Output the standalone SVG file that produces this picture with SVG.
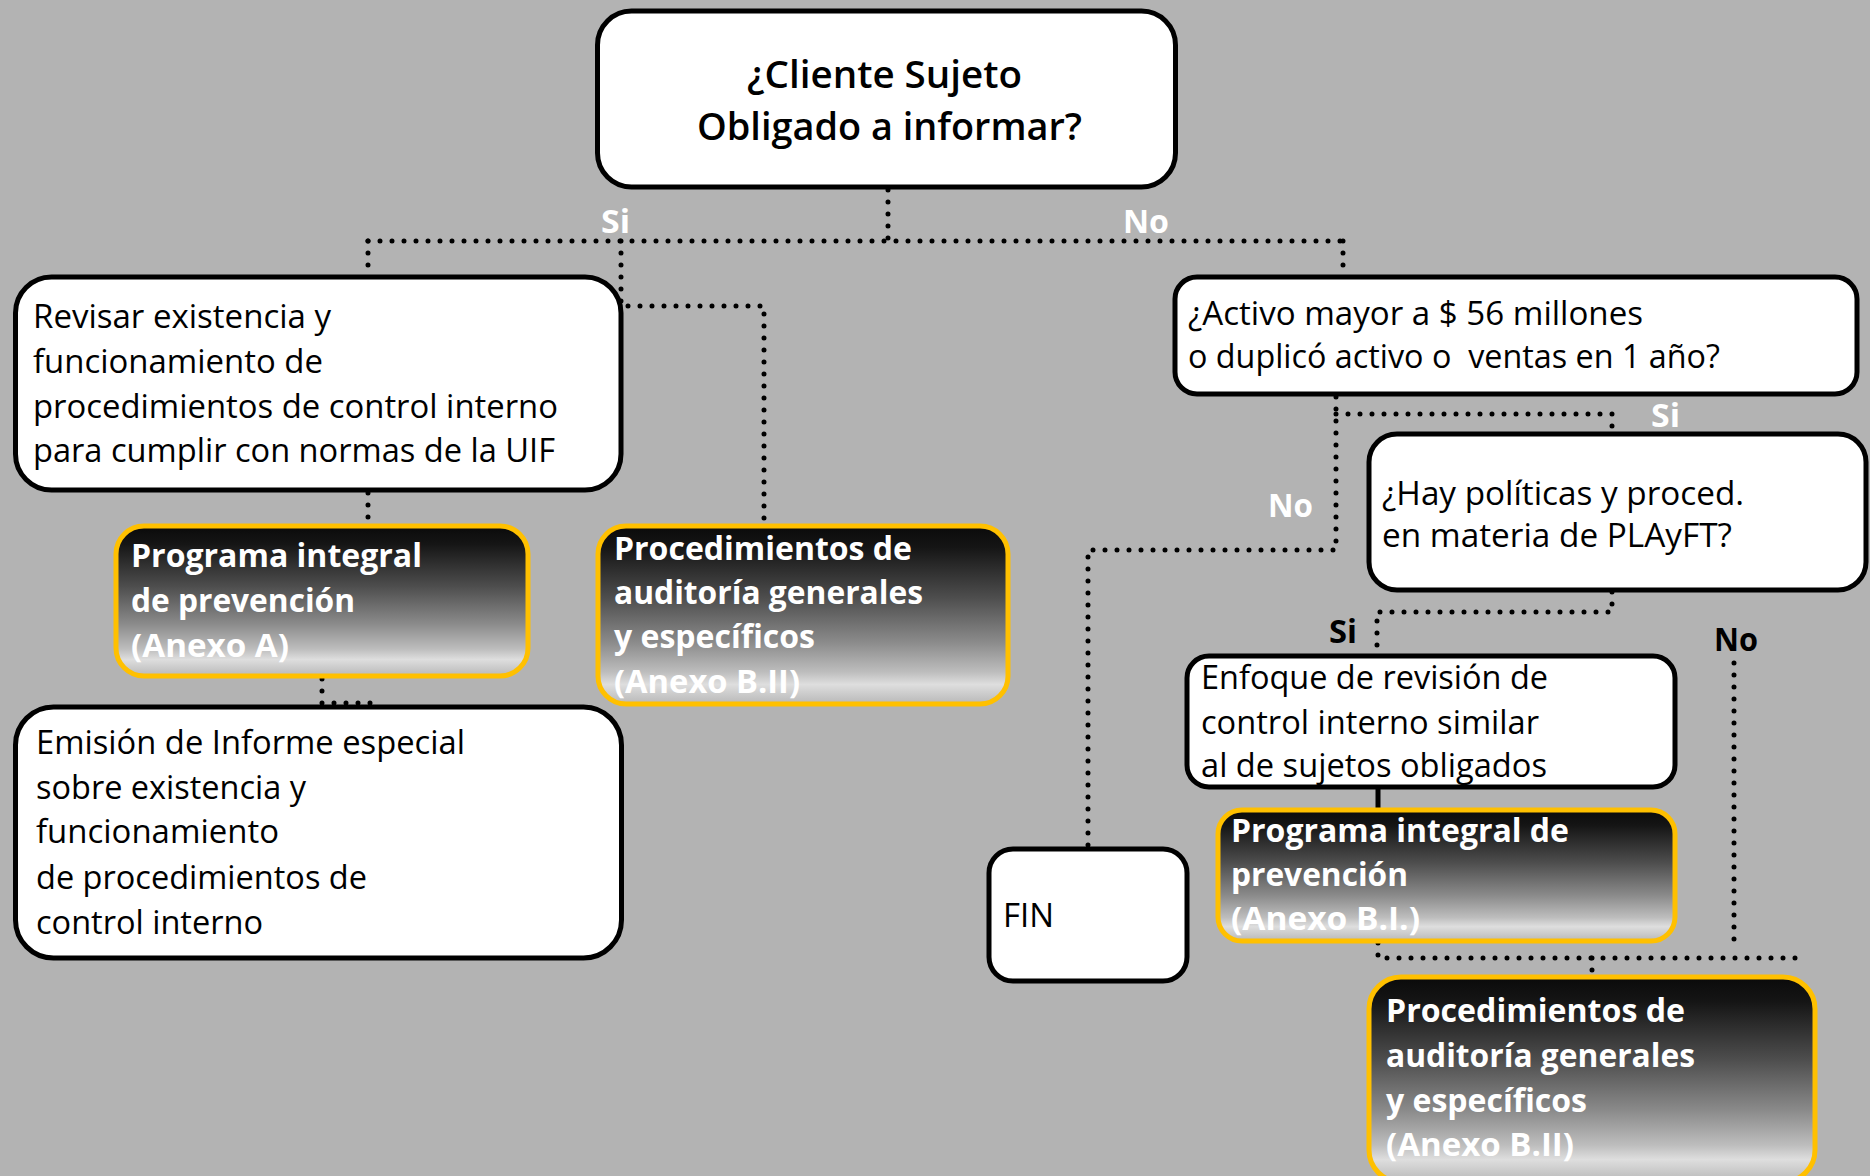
<svg xmlns="http://www.w3.org/2000/svg" width="1870" height="1176" viewBox="0 0 1870 1176">
<defs>
<linearGradient id="chrome" x1="0" y1="0" x2="0" y2="1">
<stop offset="0" stop-color="#0a0a0a"/>
<stop offset="0.12" stop-color="#151515"/>
<stop offset="0.4" stop-color="#4d4d4d"/>
<stop offset="0.65" stop-color="#8a8a8a"/>
<stop offset="0.82" stop-color="#bdbdbd"/>
<stop offset="0.89" stop-color="#dedede"/>
<stop offset="1" stop-color="#b8b8b8"/>
</linearGradient>
<style>
.wb{fill:#ffffff;stroke:#000000;stroke-width:5}
.ob{fill:url(#chrome);stroke:#FFC000;stroke-width:5}
.t{font-family:"Open Sans","Liberation Sans",sans-serif;font-size:32px;fill:#000000;white-space:pre}
.tt{font-family:"Open Sans","Liberation Sans",sans-serif;font-size:38px;font-weight:600;fill:#000000}
.w{font-family:"Open Sans","Liberation Sans",sans-serif;font-size:33px;font-weight:bold;fill:#ffffff}
.lw{font-family:"Open Sans","Liberation Sans",sans-serif;font-size:32px;font-weight:bold;fill:#ffffff}
.lb{font-family:"Open Sans","Liberation Sans",sans-serif;font-size:32px;font-weight:bold;fill:#000000}
.dot{fill:none;stroke:#000000;stroke-width:5;stroke-linecap:round;stroke-dasharray:0 12}
.solid{fill:none;stroke:#000000;stroke-width:5}
</style>
</defs>
<rect x="0" y="0" width="1870" height="1176" fill="#b3b3b3"/>

<g id="connectors">
<path class="dot" d="M888,190 V241"/>
<path class="dot" d="M368,241 H1343"/>
<path class="dot" d="M368,241 V275"/>
<path class="dot" d="M1343,241 V275"/>
<path class="dot" d="M621,241 V306 H764 V522"/>
<path class="dot" d="M368,493 V524"/>
<path class="dot" d="M322,679 V703 H372"/>
<path class="dot" d="M1336,397 V550 H1088 V846"/>
<path class="dot" d="M1336,414 H1612 V432"/>
<path class="dot" d="M1612,592 V612 H1377 V653"/>
<path class="dot" d="M1734,663 V942"/>
<path class="dot" d="M1378,943 V958 H1798"/>
<path class="dot" d="M1592,958 V976"/>
<path class="solid" d="M1378,789 V809"/>
<text class="lw" x="601" y="233" textLength="29" lengthAdjust="spacingAndGlyphs">Si</text>
<text class="lw" x="1123" y="233" textLength="46" lengthAdjust="spacingAndGlyphs">No</text>
<text class="lw" x="1268" y="517" textLength="45" lengthAdjust="spacingAndGlyphs">No</text>
<text class="lw" x="1651" y="427" textLength="29" lengthAdjust="spacingAndGlyphs">Si</text>
<text class="lb" x="1329" y="643" textLength="28" lengthAdjust="spacingAndGlyphs">Si</text>
<text class="lb" x="1714" y="651" textLength="44" lengthAdjust="spacingAndGlyphs">No</text>
</g>

<g id="n-cliente">
<rect class="wb" x="597.5" y="11" width="578" height="176" rx="34"/>
<text class="tt" x="747" y="88" textLength="275" lengthAdjust="spacingAndGlyphs">¿Cliente Sujeto</text>
<text class="tt" x="697" y="140" textLength="385" lengthAdjust="spacingAndGlyphs">Obligado a informar?</text>
</g>

<g id="n-revisar">
<rect class="wb" x="15.5" y="277" width="605.5" height="213" rx="36"/>
<text class="t" x="33" y="328" textLength="298" lengthAdjust="spacingAndGlyphs">Revisar existencia y</text>
<text class="t" x="33" y="373" textLength="290" lengthAdjust="spacingAndGlyphs">funcionamiento de</text>
<text class="t" x="33" y="418" textLength="525" lengthAdjust="spacingAndGlyphs">procedimientos de control interno</text>
<text class="t" x="33" y="462" textLength="522" lengthAdjust="spacingAndGlyphs">para cumplir con normas de la UIF</text>
</g>

<g id="n-programa-a">
<rect class="ob" x="116" y="526" width="412" height="150" rx="28"/>
<text class="w" x="131" y="567" textLength="291" lengthAdjust="spacingAndGlyphs">Programa integral</text>
<text class="w" x="131" y="612" textLength="224" lengthAdjust="spacingAndGlyphs">de prevención</text>
<text class="w" x="131" y="657" textLength="158" lengthAdjust="spacingAndGlyphs">(Anexo A)</text>
</g>

<g id="n-proc-left">
<rect class="ob" x="598" y="526" width="410" height="178" rx="28"/>
<text class="w" x="614" y="560" textLength="298" lengthAdjust="spacingAndGlyphs">Procedimientos de</text>
<text class="w" x="614" y="604" textLength="309" lengthAdjust="spacingAndGlyphs">auditoría generales</text>
<text class="w" x="614" y="648" textLength="201" lengthAdjust="spacingAndGlyphs">y específicos</text>
<text class="w" x="614" y="693" textLength="186" lengthAdjust="spacingAndGlyphs">(Anexo B.II)</text>
</g>

<g id="n-emision">
<rect class="wb" x="15.5" y="707" width="606" height="251" rx="38"/>
<text class="t" x="36" y="754" textLength="429" lengthAdjust="spacingAndGlyphs">Emisión de Informe especial</text>
<text class="t" x="36" y="799" textLength="270" lengthAdjust="spacingAndGlyphs">sobre existencia y</text>
<text class="t" x="36" y="843" textLength="243" lengthAdjust="spacingAndGlyphs">funcionamiento</text>
<text class="t" x="36" y="889" textLength="331" lengthAdjust="spacingAndGlyphs">de procedimientos de</text>
<text class="t" x="36" y="934" textLength="227" lengthAdjust="spacingAndGlyphs">control interno</text>
</g>

<g id="n-activo">
<rect class="wb" x="1175" y="277" width="682" height="117" rx="22"/>
<text class="t" x="1188" y="325" textLength="455" lengthAdjust="spacingAndGlyphs">¿Activo mayor a $ 56 millones</text>
<text class="t" x="1188" y="368" textLength="532" lengthAdjust="spacingAndGlyphs">o duplicó activo o  ventas en 1 año?</text>
</g>

<g id="n-hay">
<rect class="wb" x="1369" y="434" width="497" height="156" rx="28"/>
<text class="t" x="1382" y="505" textLength="362" lengthAdjust="spacingAndGlyphs">¿Hay políticas y proced.</text>
<text class="t" x="1382" y="547" textLength="350" lengthAdjust="spacingAndGlyphs">en materia de PLAyFT?</text>
</g>

<g id="n-enfoque">
<rect class="wb" x="1187" y="656" width="488" height="131" rx="22"/>
<text class="t" x="1201" y="689" textLength="347" lengthAdjust="spacingAndGlyphs">Enfoque de revisión de</text>
<text class="t" x="1201" y="734" textLength="338" lengthAdjust="spacingAndGlyphs">control interno similar</text>
<text class="t" x="1201" y="777" textLength="346" lengthAdjust="spacingAndGlyphs">al de sujetos obligados</text>
</g>

<g id="n-programa-bi">
<rect class="ob" x="1218" y="810" width="457" height="131" rx="24"/>
<text class="w" x="1231" y="842" textLength="338" lengthAdjust="spacingAndGlyphs">Programa integral de</text>
<text class="w" x="1231" y="886" textLength="177" lengthAdjust="spacingAndGlyphs">prevención</text>
<text class="w" x="1231" y="930" textLength="189" lengthAdjust="spacingAndGlyphs">(Anexo B.I.)</text>
</g>

<g id="n-fin">
<rect class="wb" x="989" y="849" width="198" height="132" rx="24"/>
<text class="t" x="1003" y="927" textLength="51" lengthAdjust="spacingAndGlyphs">FIN</text>
</g>

<g id="n-proc-right">
<rect class="ob" x="1369" y="977" width="446" height="205" rx="32"/>
<text class="w" x="1386" y="1022" textLength="299" lengthAdjust="spacingAndGlyphs">Procedimientos de</text>
<text class="w" x="1386" y="1067" textLength="309" lengthAdjust="spacingAndGlyphs">auditoría generales</text>
<text class="w" x="1386" y="1112" textLength="201" lengthAdjust="spacingAndGlyphs">y específicos</text>
<text class="w" x="1386" y="1156" textLength="188" lengthAdjust="spacingAndGlyphs">(Anexo B.II)</text>
</g>
</svg>
